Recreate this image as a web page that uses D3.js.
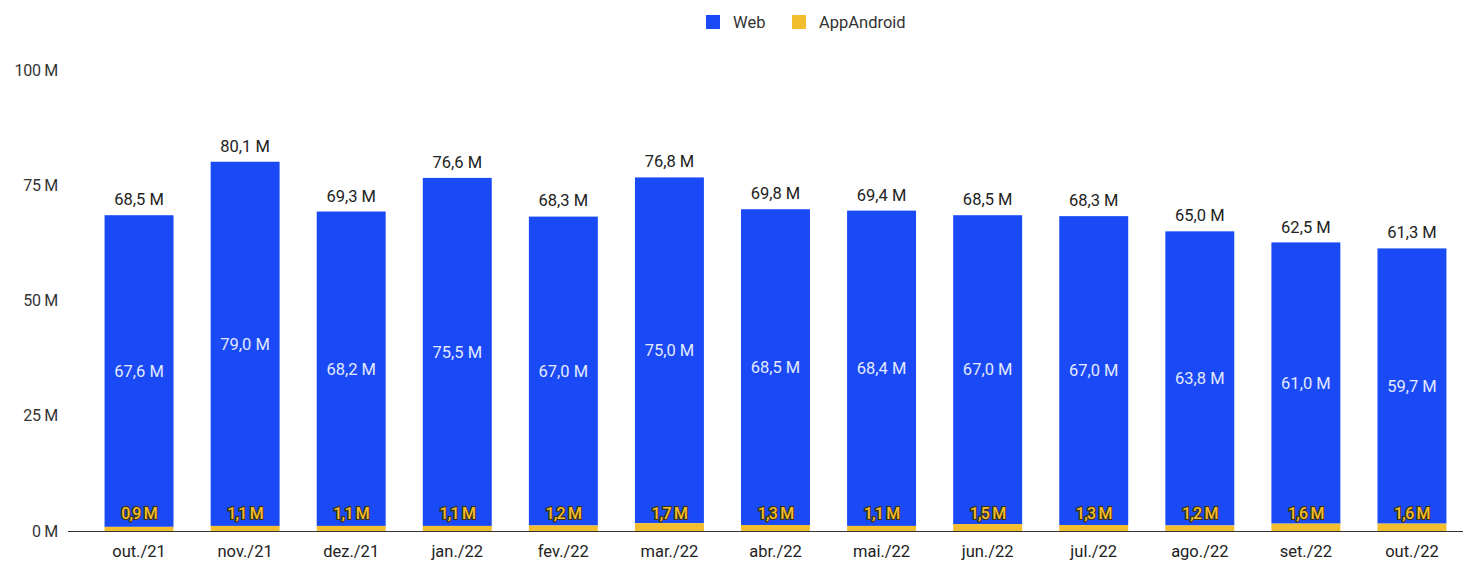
<!DOCTYPE html>
<html><head><meta charset="utf-8">
<script src="https://cdn.jsdelivr.net/npm/d3@7"></script>
<style>body{margin:0;background:#fff;font-family:Roboto,"Noto Sans",sans-serif;}</style>
</head><body><svg id="c" width="1472" height="561"></svg>
<script>
const categories = ["out./21","nov./21","dez./21","jan./22","fev./22","mar./22","abr./22","mai./22","jun./22","jul./22","ago./22","set./22","out./22"];
const webValues = [67.6,79.0,68.2,75.5,67.0,75.0,68.5,68.4,67.0,67.0,63.8,61.0,59.7];
const appValues = [0.9,1.1,1.1,1.1,1.2,1.7,1.3,1.1,1.5,1.3,1.2,1.6,1.6];
const totalValues = [68.5,80.1,69.3,76.6,68.3,76.8,69.8,69.4,68.5,68.3,65.0,62.5,61.3];
const yTicks = [0,25,50,75,100];
const seriesNames = ["Web","AppAndroid"];
const colors = {Web:"#1a4af5", AppAndroid:"#f2bd2e"};

const svg = d3.select("#c");
const fmt = v => v.toFixed(1).replace(".", ",") + " M";
const x = d3.scaleBand().domain(categories).range([86,1465]).paddingInner(0.35).paddingOuter(0.175);
const y = d3.scaleLinear().domain([0,100]).range([531,70]);

// y axis labels
svg.append("g").selectAll("text").data(yTicks).join("text")
  .attr("x",58).attr("y",d=>y(d)).attr("dy","0.35em").attr("text-anchor","end")
  .attr("font-size",16).attr("fill","#333").attr("letter-spacing","-0.3").text(d=>d+" M");

// bars
const g = svg.append("g");
categories.forEach((c,i)=>{
  g.append("rect").attr("x",x(c)).attr("width",x.bandwidth())
    .attr("y",y(appValues[i]+webValues[i])).attr("height",y(appValues[i])-y(appValues[i]+webValues[i]))
    .attr("fill",colors.Web);
  g.append("rect").attr("x",x(c)).attr("width",x.bandwidth())
    .attr("y",y(appValues[i])).attr("height",y(0)-y(appValues[i]))
    .attr("fill",colors.AppAndroid);
});

// baseline
svg.append("line").attr("x1",68).attr("x2",1463).attr("y1",y(0)+0.5).attr("y2",y(0)+0.5).attr("stroke","#333").attr("stroke-width",1);

// x labels
svg.append("g").selectAll("text").data(categories).join("text")
  .attr("x",d=>x(d)+x.bandwidth()/2).attr("y",557).attr("text-anchor","middle")
  .attr("font-size",16.5).attr("fill","#222").text(d=>d);

// total labels
svg.append("g").selectAll("text").data(categories).join("text")
  .attr("x",d=>x(d)+x.bandwidth()/2).attr("y",(d,i)=>y(totalValues[i])-10).attr("text-anchor","middle")
  .attr("font-size",16.5).attr("fill","#222").text((d,i)=>fmt(totalValues[i]));

// web labels
svg.append("g").selectAll("text").data(categories).join("text")
  .attr("x",d=>x(d)+x.bandwidth()/2).attr("y",(d,i)=>y(appValues[i]+webValues[i]/2)).attr("dy","0.35em").attr("text-anchor","middle")
  .attr("font-size",16.5).attr("fill","#e3e9ff").text((d,i)=>fmt(webValues[i]));

// app labels
svg.append("g").selectAll("text").data(categories).join("text")
  .attr("x",d=>x(d)+x.bandwidth()/2).attr("y",513).attr("dy","0.35em").attr("text-anchor","middle")
  .attr("font-size",16).attr("font-weight",500).attr("fill",colors.AppAndroid).attr("stroke","#3d300c").attr("stroke-width",2.2)
  .attr("paint-order","stroke").attr("letter-spacing","-0.8").text((d,i)=>fmt(appValues[i]));

// legend
const lg = svg.append("g");
const lx = [706,792];
seriesNames.forEach((s,i)=>{
  lg.append("rect").attr("x",lx[i]).attr("y",15).attr("width",14).attr("height",14).attr("fill",colors[s]);
  lg.append("text").attr("x",lx[i]+27).attr("y",22).attr("dy","0.35em").attr("font-size",16.5).attr("fill","#333").text(s);
});
</script></body></html>
